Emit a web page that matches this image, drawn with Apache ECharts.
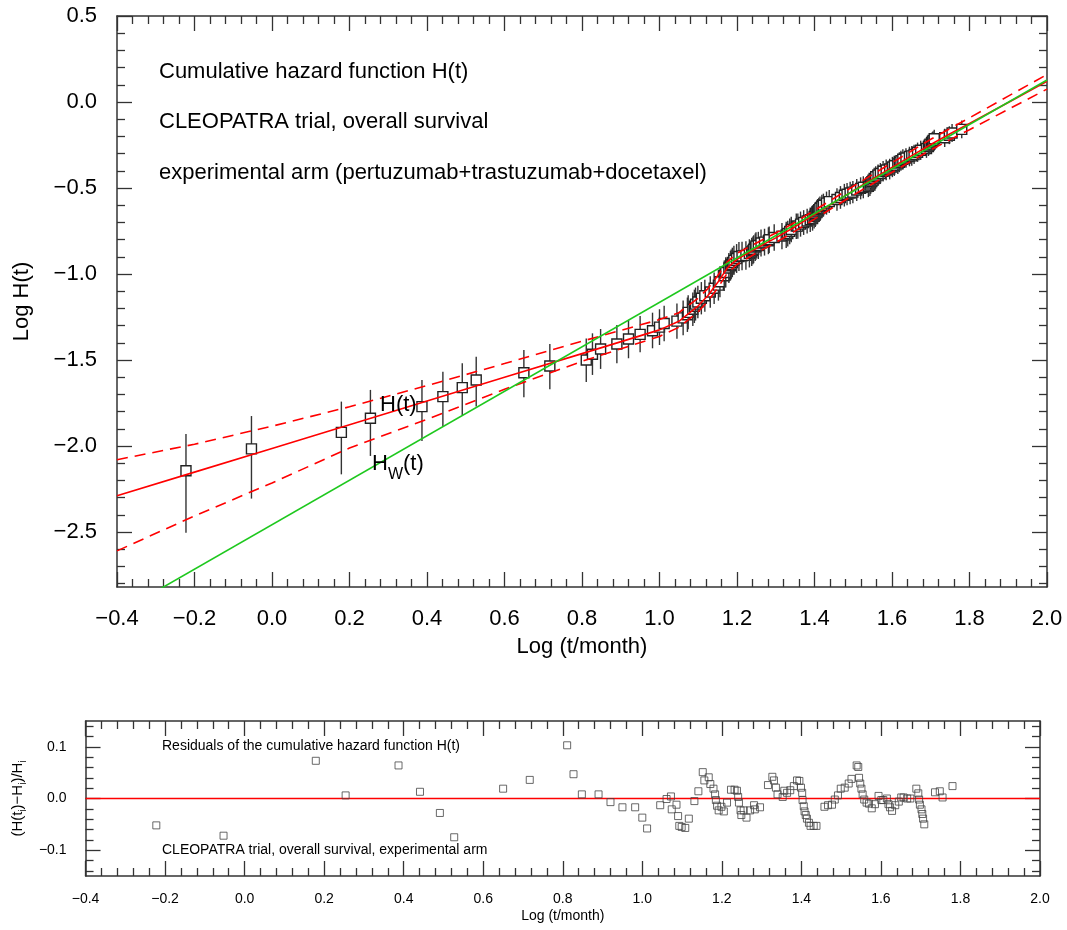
<!DOCTYPE html>
<html><head><meta charset="utf-8">
<script src="https://cdn.jsdelivr.net/npm/echarts@6/dist/echarts.min.js"></script>
<style>html,body{margin:0;padding:0;background:#fff}#c{width:1067px;height:930px}</style>
</head><body><div id="c"></div>
<script>
// ---------- data ----------
const logT = [-0.222,-0.053,0.179,0.254,0.387,0.441,0.491,0.527,0.650,0.717,0.811,0.827,0.848,0.890,0.920,0.950,0.982,
 1.000,1.012,1.045,1.061,1.072,1.074,1.086,1.090,1.093,1.099,
 1.108,1.117,1.131,1.141,1.152,1.156,1.167,1.171,1.179,1.183,
 1.185,1.188,1.192,1.199,1.205,1.213,1.223,1.232,1.238,1.241,
 1.243,1.247,1.249,1.255,1.262,1.271,1.281,1.283,1.296,1.316,
 1.327,1.331,1.336,1.340,1.353,1.357,1.364,1.372,1.381,1.389,
 1.395,1.399,1.402,1.403,1.406,1.408,1.411,1.414,1.419,1.423,
 1.431,1.438,1.458,1.467,1.477,1.484,1.492,1.499,1.509,1.519,
 1.526,1.539,1.543,1.545,1.548,1.551,1.554,1.558,1.564,1.570,
 1.577,1.585,1.594,1.601,1.606,1.615,1.619,1.623,1.628,1.636,
 1.645,1.651,1.657,1.666,1.674,1.689,1.694,1.696,1.698,1.702,
 1.704,1.706,1.709,1.736,1.748,1.755,1.780];
const logH = [-2.144,-2.017,-1.921,-1.839,-1.771,-1.713,-1.661,-1.616,-1.574,-1.535,-1.500,-1.467,-1.436,-1.407,-1.378,-1.351,-1.330,
 -1.309,-1.288,-1.274,-1.255,-1.237,-1.223,-1.205,-1.188,-1.175,-1.163,
 -1.141,-1.127,-1.105,-1.083,-1.065,-1.045,-1.010,-0.991,-0.965,-0.952,
 -0.944,-0.933,-0.921,-0.910,-0.898,-0.895,-0.892,-0.880,-0.872,-0.863,
 -0.856,-0.844,-0.837,-0.834,-0.820,-0.815,-0.807,-0.801,-0.788,-0.780,
 -0.773,-0.765,-0.752,-0.741,-0.722,-0.722,-0.710,-0.701,-0.692,-0.685,
 -0.677,-0.665,-0.657,-0.650,-0.640,-0.633,-0.626,-0.618,-0.608,-0.600,
 -0.588,-0.579,-0.567,-0.555,-0.542,-0.536,-0.529,-0.524,-0.512,-0.502,
 -0.496,-0.490,-0.483,-0.471,-0.463,-0.454,-0.445,-0.435,-0.425,-0.416,
 -0.403,-0.395,-0.390,-0.378,-0.371,-0.360,-0.350,-0.342,-0.333,-0.326,
 -0.317,-0.313,-0.305,-0.292,-0.281,-0.270,-0.259,-0.251,-0.245,-0.236,
 -0.229,-0.223,-0.214,-0.208,-0.193,-0.180,-0.159];
const errUpSparse   = [0.214,0.191,0.179,0.165,0.155,0.145,0.142,0.135,0.132,0.128,0.125,0.122,0.116,0.110,0.111,0.107,0.105];
const errDownSparse = [0.360,0.289,0.244,0.219,0.200,0.175,0.159,0.155,0.143,0.135,0.128,0.120,0.116,0.112,0.112,0.104,0.102];
const errDense = [0.104,0.103,0.102,0.101,0.100,0.099,0.098,0.097,0.096,0.095,
 0.094,0.093,0.092,0.091,0.090,0.090,0.089,0.088,0.087,0.087,
 0.086,0.086,0.085,0.084,0.084,0.083,0.083,0.082,0.082,0.081,
 0.081,0.080,0.080,0.079,0.079,0.078,0.078,0.077,0.077,0.076,
 0.076,0.075,0.075,0.074,0.074,0.073,0.073,0.072,0.072,0.071,
 0.071,0.071,0.070,0.070,0.069,0.069,0.069,0.068,0.068,0.067,
 0.067,0.067,0.066,0.066,0.066,0.065,0.065,0.065,0.064,0.064,
 0.064,0.063,0.063,0.063,0.062,0.062,0.062,0.061,0.061,0.061,
 0.060,0.060,0.060,0.059,0.059,0.059,0.058,0.058,0.058,0.057,
 0.057,0.057,0.056,0.056,0.056,0.055,0.055,0.055,0.054,0.054,
 0.054,0.053,0.053,0.053,0.052,0.052,0.052];
const resid = [-0.052,-0.072,0.073,0.006,0.064,0.013,-0.028,-0.075,0.019,0.036,0.103,0.047,0.008,0.008,-0.007,-0.017,-0.017,
 -0.037,-0.058,-0.013,-0.001,0.004,-0.021,-0.012,-0.034,-0.053,-0.055,
 -0.057,-0.039,-0.005,0.014,0.051,0.035,0.041,0.028,0.019,0.008,
 -0.003,-0.014,-0.023,-0.016,-0.025,-0.008,0.017,0.017,0.015,0.003,
 -0.008,-0.023,-0.032,-0.023,-0.037,-0.023,-0.013,-0.021,-0.017,0.026,
 0.042,0.035,0.021,0.008,0.003,0.015,0.011,0.016,0.024,0.035,
 0.034,0.021,0.011,-0.003,-0.015,-0.025,-0.032,-0.039,-0.047,-0.053,
 -0.053,-0.053,-0.016,-0.013,-0.012,-0.002,0.006,0.019,0.021,0.029,
 0.038,0.064,0.061,0.040,0.029,0.019,0.008,-0.002,-0.008,-0.010,
 -0.019,-0.011,0.005,-0.003,-0.003,0.000,-0.011,-0.017,-0.024,-0.013,
 -0.006,0.002,0.002,0.000,0.000,0.019,0.010,-0.002,-0.012,-0.021,
 -0.030,-0.039,-0.050,0.012,0.014,0.002,0.024];
// fitted cumulative hazard (red) and its confidence band
const fitX     = [-0.4,-0.2,0.0,0.2,0.4,0.6,0.8,1.0,1.05,1.1,1.125,1.15,1.175,1.2,1.25,1.3,1.35,1.4,1.45,1.5,1.55,1.6,1.65,1.7,1.75,1.8,1.9,2.0];
const fitY     = [-2.29,-2.152,-2.015,-1.877,-1.739,-1.601,-1.463,-1.325,-1.275,-1.185,-1.125,-1.05,-0.965,-0.915,-0.85,-0.79,-0.725,-0.655,-0.585,-0.515,-0.447,-0.38,-0.313,-0.247,-0.185,-0.125,-0.003,0.12];
const fitUpper = [-2.08,-1.99,-1.885,-1.772,-1.649,-1.521,-1.391,-1.265,-1.225,-1.14,-1.085,-1.01,-0.93,-0.88,-0.82,-0.762,-0.699,-0.63,-0.56,-0.49,-0.421,-0.353,-0.285,-0.217,-0.154,-0.092,0.034,0.16];
const fitLower = [-2.61,-2.407,-2.215,-2.012,-1.845,-1.67,-1.508,-1.363,-1.31,-1.22,-1.158,-1.082,-0.995,-0.945,-0.878,-0.817,-0.751,-0.681,-0.611,-0.542,-0.475,-0.409,-0.343,-0.279,-0.219,-0.161,-0.043,0.075];
// Weibull line H_W(t)
const weibullX = [-0.4, 2.0];
const weibullY = [-2.975, 0.128];
// axis ticks
const xTickLabels = [-0.4,-0.2,0.0,0.2,0.4,0.6,0.8,1.0,1.2,1.4,1.6,1.8,2.0];
const mainYTickLabels = [-2.5,-2.0,-1.5,-1.0,-0.5,0.0,0.5];
const resYTickLabels = [-0.1,0.0,0.1];

// ---------- helpers ----------
const FONT = '"Liberation Sans", Arial, sans-serif';
const r3 = v => Math.round(v * 1000) / 1000;
function minorTicks(from, to, step, majors) {
  const out = [];
  for (let v = from; v <= to + 1e-9; v += step) {
    const rv = r3(v);
    if (!majors.some(m => Math.abs(m - rv) < 1e-6)) out.push(rv);
  }
  return out;
}
const fmt = v => (Math.abs(v) < 1e-9 ? 0 : v).toFixed(1).replace('-', '\u2212');

function axisSet(dim, grid, min, max, majors, minors, label, name) {
  const posA = dim === 'x' ? 'bottom' : 'left';
  const posB = dim === 'x' ? 'top' : 'right';
  const base = (pos, vals, len, showLine) => ({
    type: 'value', gridIndex: grid, position: pos, min: min, max: max,
    axisLine: { show: showLine, onZero: false, lineStyle: { color: '#333', width: 1.5 } },
    axisTick: { show: true, inside: true, length: len, customValues: vals, lineStyle: { color: '#333', width: 1.3 } },
    axisLabel: { show: false },
    splitLine: { show: false },
    silent: true
  });
  const a = base(posA, majors, 15, true);
  a.axisLabel = Object.assign({ show: true, customValues: majors, formatter: fmt, color: '#000', fontFamily: FONT }, label);
  Object.assign(a, name);
  return [a, base(posA, minors, 8, false), base(posB, majors, 15, true), base(posB, minors, 8, false)];
}

const xMinor = minorTicks(-0.4, 2.0, 0.04, xTickLabels);
const mainYMinor = minorTicks(-2.8, 0.4, 0.1, mainYTickLabels);
const resYMinor = minorTicks(-0.14, 0.14, 0.02, resYTickLabels);

const xAxes = [].concat(
  axisSet('x', 0, -0.4, 2.0, xTickLabels, xMinor, { fontSize: 22, margin: 21 },
    { name: 'Log (t/month)', nameLocation: 'middle', nameGap: 49, nameTextStyle: { fontSize: 22, fontFamily: FONT, color: '#000' } }),
  axisSet('x', 1, -0.4, 2.0, xTickLabels, xMinor, { fontSize: 14, margin: 16 },
    { name: 'Log (t/month)', nameLocation: 'middle', nameGap: 33, nameTextStyle: { fontSize: 14, fontFamily: FONT, color: '#000' } })
);
const yAxes = [].concat(
  axisSet('y', 0, -2.82, 0.5, mainYTickLabels, mainYMinor, { fontSize: 22, margin: 20 },
    { name: 'Log H(t)', nameLocation: 'middle', nameGap: 84, nameTextStyle: { fontSize: 22, fontFamily: FONT, color: '#000' } }),
  axisSet('y', 1, -0.15, 0.15, resYTickLabels, resYMinor, { fontSize: 14, margin: 19 },
    { name: '(H(t{s|i})\u2212H{s|i})/H{s|i}', nameLocation: 'middle', nameGap: 56,
      nameTextStyle: { fontSize: 15, fontFamily: FONT, color: '#000', lineHeight: 20, verticalAlign: 'middle',
        rich: { s: { fontSize: 10, fontFamily: FONT, color: '#000', verticalAlign: 'bottom', lineHeight: 10 } } } })
);

const points = logT.map((x, i) => {
  const up = i < errUpSparse.length ? errUpSparse[i] : errDense[i - errUpSparse.length];
  const dn = i < errDownSparse.length ? errDownSparse[i] : errDense[i - errDownSparse.length];
  return [x, logH[i], logH[i] - dn, logH[i] + up];
});

const chart = echarts.init(document.getElementById('c'), null, { renderer: 'canvas' });
chart.setOption({
  animation: false,
  backgroundColor: '#fff',
  grid: [
    { left: 117, top: 16, width: 930, height: 571 },
    { left: 81, top: 721, width: 959, height: 155 }
  ],
  xAxis: xAxes,
  yAxis: yAxes,
  graphic: [
    { type: 'text', x: 159, y: 72, style: { text: 'Cumulative hazard function H(t)', font: '22px ' + FONT, fill: '#000', verticalAlign: 'middle' } },
    { type: 'text', x: 159, y: 122, style: { text: 'CLEOPATRA trial, overall survival', font: '22px ' + FONT, fill: '#000', verticalAlign: 'middle' } },
    { type: 'text', x: 159, y: 173, style: { text: 'experimental arm (pertuzumab+trastuzumab+docetaxel)', font: '22px ' + FONT, fill: '#000', verticalAlign: 'middle' } },
    { type: 'text', x: 380, y: 405, z: 20, style: { text: 'H(t)', font: '22px ' + FONT, fill: '#000', verticalAlign: 'middle' } },
    { type: 'text', x: 372, y: 468, z: 20, style: { text: '{a|H}{b|W}{a|(t)}', verticalAlign: 'middle',
        rich: { a: { fontSize: 22, fontFamily: FONT, fill: '#000', color: '#000', lineHeight: 30, verticalAlign: 'top' },
                b: { fontSize: 16, fontFamily: FONT, fill: '#000', color: '#000', lineHeight: 16, verticalAlign: 'bottom' } } } },
    { type: 'text', x: 162, y: 746, style: { text: 'Residuals of the cumulative hazard function H(t)', font: '14px ' + FONT, fill: '#000', verticalAlign: 'middle' } },
    { type: 'text', x: 162, y: 850, style: { text: 'CLEOPATRA trial, overall survival, experimental arm', font: '14px ' + FONT, fill: '#000', verticalAlign: 'middle' } }
  ],
  series: [
    {
      type: 'custom', xAxisIndex: 0, yAxisIndex: 0, clip: true, z: 2,
      data: points,
      renderItem: function (params, api) {
        const c = api.coord([api.value(0), api.value(1)]);
        const lo = api.coord([api.value(0), api.value(2)]);
        const hi = api.coord([api.value(0), api.value(3)]);
        return {
          type: 'group',
          children: [
            { type: 'line', shape: { x1: c[0], y1: lo[1], x2: c[0], y2: hi[1] }, style: { stroke: '#333', lineWidth: 1.4 } },
            { type: 'rect', shape: { x: c[0] - 5, y: c[1] - 5, width: 10, height: 10 }, style: { fill: '#fff', stroke: '#222', lineWidth: 1.4 } }
          ]
        };
      }
    },
    {
      type: 'line', xAxisIndex: 0, yAxisIndex: 0, z: 5, showSymbol: false, smooth: false,
      data: fitX.map((x, i) => [x, fitUpper[i]]),
      lineStyle: { color: '#ff0000', width: 1.6, type: [11, 7] }
    },
    {
      type: 'line', xAxisIndex: 0, yAxisIndex: 0, z: 5, showSymbol: false, smooth: false,
      data: fitX.map((x, i) => [x, fitLower[i]]),
      lineStyle: { color: '#ff0000', width: 1.6, type: [11, 7] }
    },
    {
      type: 'line', xAxisIndex: 0, yAxisIndex: 0, z: 5, showSymbol: false, smooth: false,
      data: fitX.map((x, i) => [x, fitY[i]]),
      lineStyle: { color: '#ff0000', width: 1.6 }
    },
    {
      type: 'line', xAxisIndex: 0, yAxisIndex: 0, z: 6, showSymbol: false,
      data: weibullX.map((x, i) => [x, weibullY[i]]),
      lineStyle: { color: '#1ec81e', width: 1.6 }
    },
    {
      type: 'line', xAxisIndex: 4, yAxisIndex: 4, z: 3, showSymbol: false,
      data: [[xTickLabels[0], 0], [xTickLabels[xTickLabels.length - 1], 0]],
      lineStyle: { color: '#ff0000', width: 1.4 }
    },
    {
      type: 'scatter', xAxisIndex: 4, yAxisIndex: 4, z: 4, symbol: 'rect', symbolSize: 7,
      data: logT.map((x, i) => [x, resid[i]]),
      itemStyle: { color: 'rgba(0,0,0,0)', borderColor: '#444', borderWidth: 1 }
    }
  ]
});
</script>
</body></html>
